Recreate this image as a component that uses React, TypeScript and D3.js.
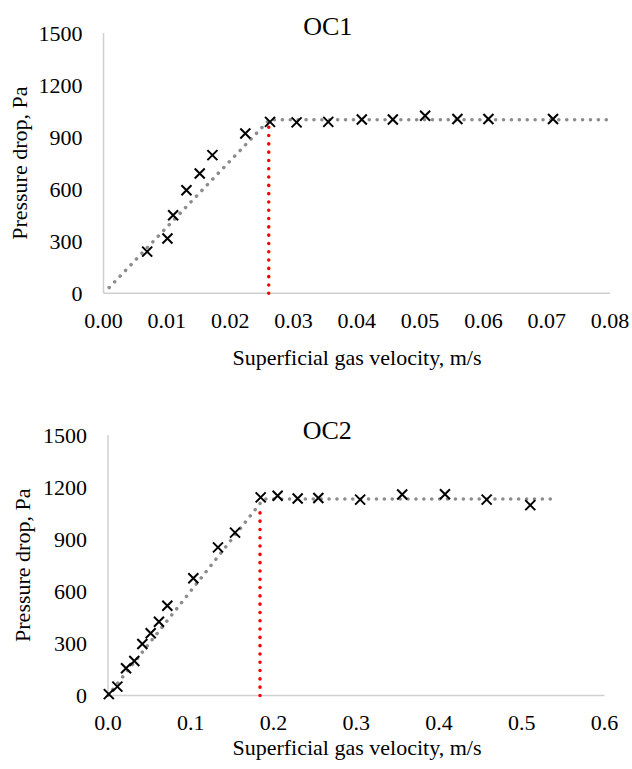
import React, { useRef, useEffect } from "react";
import * as d3 from "d3";

// OC1 measurements
const oc1Velocity = [0.0069, 0.0101, 0.011, 0.0131, 0.0152, 0.0172, 0.0224, 0.0263, 0.0305, 0.0355, 0.0408, 0.0457, 0.0508, 0.0559, 0.0608, 0.071];
const oc1Pressure = [240, 316, 450, 594, 690, 796, 921, 988, 985, 988, 1002, 1002, 1023, 1004, 1004, 1004];
const oc1TrendX = [0.0009, 0.0262, 0.0795];
const oc1TrendY = [33, 1000, 1000];
const oc1Umf = 0.0261;
const oc1UmfTop = 960;
const oc1XTicks = [0, 0.01, 0.02, 0.03, 0.04, 0.05, 0.06, 0.07, 0.08];

// OC2 measurements
const oc2Velocity = [0.001, 0.0113, 0.0218, 0.0318, 0.0415, 0.0516, 0.0616, 0.0717, 0.1031, 0.1329, 0.1535, 0.1845, 0.205, 0.2292, 0.2542, 0.3047, 0.3555, 0.4072, 0.4576, 0.5103];
const oc2Pressure = [8, 51, 157, 199, 297, 358, 425, 517, 675, 853, 938, 1141, 1150, 1134, 1137, 1128, 1157, 1159, 1128, 1096];
const oc2TrendX = [0, 0.188, 0.542];
const oc2TrendY = [0, 1131, 1131];
const oc2Umf = 0.1837;
const oc2UmfTop = 1097;
const oc2XTicks = [0, 0.1, 0.2, 0.3, 0.4, 0.5, 0.6];

const yTicks = [0, 300, 600, 900, 1200, 1500];

const FONT = "'Liberation Serif', 'Times New Roman', serif";

const panels = [
	{
		title: "OC1", vel: oc1Velocity, dp: oc1Pressure, tx: oc1TrendX, ty: oc1TrendY,
		umf: oc1Umf, umfTop: oc1UmfTop, xTicks: oc1XTicks, xMax: 0.08, fmt: d3.format(".2f"),
		left: 103.5, right: 610, top: 33, bottom: 293.3, titleY: 26, yTitleX: 19, xTitleGap: 64,
	},
	{
		title: "OC2", vel: oc2Velocity, dp: oc2Pressure, tx: oc2TrendX, ty: oc2TrendY,
		umf: oc2Umf, umfTop: oc2UmfTop, xTicks: oc2XTicks, xMax: 0.6, fmt: d3.format(".1f"),
		left: 108, right: 604.5, top: 435, bottom: 695.5, titleY: 430, yTitleX: 22, xTitleGap: 52,
	},
];

const App = () => {
	const svgRef = useRef(null);

	useEffect(() => {
		const svg = d3.select(svgRef.current);
		svg.selectAll("*").remove();

		panels.forEach(p => {
			const x = d3.scaleLinear().domain([0, p.xMax]).range([p.left, p.right]);
			const y = d3.scaleLinear().domain([0, 1500]).range([p.bottom, p.top]);
			const g = svg.append("g");

			// axis lines
			g.append("line")
				.attr("x1", p.left).attr("x2", p.left)
				.attr("y1", p.top).attr("y2", p.bottom)
				.attr("stroke", "#d0d0d0").attr("stroke-width", 1.5);
			g.append("line")
				.attr("x1", p.left).attr("x2", p.right)
				.attr("y1", p.bottom).attr("y2", p.bottom)
				.attr("stroke", "#d0d0d0").attr("stroke-width", 1.5);

			// tick labels
			g.selectAll(".ytick")
				.data(yTicks)
				.enter()
				.append("text")
				.attr("x", p.left - 21)
				.attr("y", d => y(d))
				.attr("dy", "0.35em")
				.attr("text-anchor", "end")
				.attr("font-family", FONT)
				.attr("font-size", 22)
				.text(d => d);

			g.selectAll(".xtick")
				.data(p.xTicks)
				.enter()
				.append("text")
				.attr("x", d => x(d))
				.attr("y", p.bottom + 27)
				.attr("dy", "0.35em")
				.attr("text-anchor", "middle")
				.attr("font-family", FONT)
				.attr("font-size", 22)
				.text(d => p.fmt(d));

			// titles
			g.append("text")
				.attr("x", (p.left + p.right) / 2 - 29)
				.attr("y", p.titleY)
				.attr("dy", "0.35em")
				.attr("text-anchor", "middle")
				.attr("font-family", FONT)
				.attr("font-size", 26)
				.text(p.title);

			g.append("text")
				.attr("x", 357)
				.attr("y", p.bottom + p.xTitleGap)
				.attr("dy", "0.35em")
				.attr("text-anchor", "middle")
				.attr("font-family", FONT)
				.attr("font-size", 22)
				.text("Superficial gas velocity, m/s");

			g.append("text")
				.attr("transform", `translate(${p.yTitleX}, ${(p.top + p.bottom) / 2}) rotate(-90)`)
				.attr("dy", "0.35em")
				.attr("text-anchor", "middle")
				.attr("font-family", FONT)
				.attr("font-size", 22)
				.text("Pressure drop, Pa");

			// trend line
			const line = d3.line()
				.x(d => x(d[0]))
				.y(d => y(d[1]));
			g.append("path")
				.datum(p.tx.map((v, i) => [v, p.ty[i]]))
				.attr("d", line)
				.attr("fill", "none")
				.attr("stroke", "#8c8c8c")
				.attr("stroke-width", 3.5)
				.attr("stroke-linecap", "round")
				.attr("stroke-dasharray", "0.1 7.8");

			// minimum fluidisation velocity
			g.append("line")
				.attr("x1", x(p.umf)).attr("x2", x(p.umf))
				.attr("y1", y(0)).attr("y2", y(p.umfTop))
				.attr("stroke", "#ff0000")
				.attr("stroke-width", 3.5)
				.attr("stroke-linecap", "round")
				.attr("stroke-dasharray", "0.1 8.2");

			// markers
			const s = 5;
			g.append("g")
				.selectAll("path")
				.data(p.vel.map((v, i) => [v, p.dp[i]]))
				.enter()
				.append("path")
				.attr("d", d => {
					const cx = x(d[0]);
					const cy = y(d[1]);
					return `M${cx - s},${cy - s}L${cx + s},${cy + s}M${cx - s},${cy + s}L${cx + s},${cy - s}`;
				})
				.attr("stroke", "#000")
				.attr("stroke-width", 2);
		});
	}, []);

	return (
		<div>
			<svg ref={svgRef} width={632} height={769}
				style={{ position: "absolute", left: 0, top: 0, background: "#fff" }}>
			</svg>
		</div>
	);
};

export default App;
